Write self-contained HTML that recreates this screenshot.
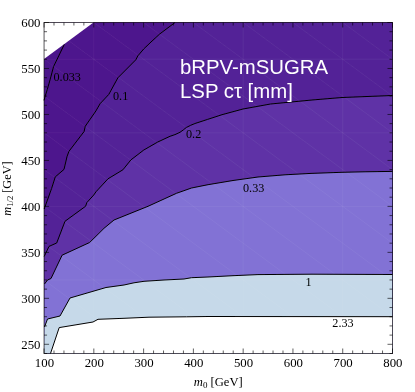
<!DOCTYPE html>
<html><head><meta charset="utf-8"><title>bRPV-mSUGRA LSP c&tau;</title>
<style>html,body{margin:0;padding:0;background:#fff;overflow:hidden}body{width:415px;height:392px;position:relative;font-family:"Liberation Sans",sans-serif}</style>
</head><body>
<svg width="415" height="392" viewBox="0 0 415 392" style="position:absolute;left:0;top:0">
<defs><filter id="bl" x="-5%" y="-5%" width="110%" height="110%"><feGaussianBlur stdDeviation="0.3"/></filter></defs>
<rect x="0" y="0" width="415" height="392" fill="#fff"/>
<g filter="url(#bl)">
<rect x="44.05" y="22.5" width="348.45" height="331" fill="#4b138b"/>
<polygon fill="#4e168d" points="64.30,44.40 53.60,66.50 50.00,80.00 47.30,89.50 45.30,95.80 44.00,100.40 44.05,353.5 392.5,353.5 392.5,22.5 93.5,22.5"/>
<polygon fill="#532397" points="175.00,22.50 159.70,34.00 151.00,42.00 143.80,48.90 137.80,55.90 135.80,59.80 117.90,77.80 108.80,94.40 100.00,103.80 96.00,110.80 85.25,126.25 84.10,131.50 69.00,151.25 67.10,156.25 64.00,169.40 55.25,176.90 51.60,188.50 44.20,209.00 44.05,353.5 392.5,353.5 392.5,22.5"/>
<polygon fill="#5f33a6" points="392.50,95.50 342.00,97.50 312.00,100.00 270.50,104.00 243.00,109.00 222.00,114.70 207.60,119.40 195.00,123.50 190.70,125.30 186.30,127.50 183.20,130.00 180.00,132.30 175.00,134.60 170.00,136.30 157.75,142.00 143.80,150.00 130.90,159.90 122.90,169.80 108.00,178.80 96.00,191.75 93.75,195.00 86.90,202.50 85.60,206.25 65.00,221.25 56.70,243.00 49.00,246.40 44.20,256.50 44.05,353.5 392.5,353.5"/>
<polygon fill="#8272d5" points="392.50,171.40 364.00,171.80 342.00,172.30 311.00,173.40 285.00,174.80 258.00,177.00 233.00,180.50 208.00,184.70 191.50,188.00 176.50,193.30 148.00,206.30 114.00,220.00 104.00,228.30 96.00,236.25 89.60,242.50 62.10,255.20 51.00,278.50 47.50,280.00 44.50,284.00 44.05,353.5 392.5,353.5"/>
<polygon fill="#c6d9e9" points="392.50,274.50 312.00,274.20 258.00,274.60 233.00,275.70 208.00,277.00 191.50,277.70 184.00,279.00 164.00,280.00 144.00,281.30 134.00,282.80 124.00,285.00 106.00,287.50 70.00,298.00 60.00,316.00 47.50,319.00 44.50,327.00 44.05,353.5 392.5,353.5"/>
<polygon fill="#fff" points="392.50,316.70 208.00,316.50 186.50,316.80 149.00,317.20 124.00,318.30 98.00,319.30 93.00,322.00 59.20,327.60 50.50,353.50 392.5,353.5"/>
<polygon fill="#fff" points="44.05,22.5 93.5,22.5 44.05,59"/>
<clipPath id="cp"><rect x="44.05" y="22.5" width="348.45" height="331"/></clipPath>
<path clip-path="url(#cp)" d="M-453.74,22.50 l497.79,367.78 M-403.96,22.50 l497.79,367.78 M-354.18,22.50 l497.79,367.78 M-304.40,22.50 l497.79,367.78 M-254.62,22.50 l497.79,367.78 M-204.84,22.50 l497.79,367.78 M-155.06,22.50 l497.79,367.78 M-105.29,22.50 l497.79,367.78 M-55.51,22.50 l497.79,367.78 M-5.73,22.50 l497.79,367.78 M44.05,22.50 l497.79,367.78 M93.83,22.50 l497.79,367.78 M143.61,22.50 l497.79,367.78 M193.39,22.50 l497.79,367.78 M243.16,22.50 l497.79,367.78 M292.94,22.50 l497.79,367.78 M342.72,22.50 l497.79,367.78 M392.50,22.50 l497.79,367.78 M44.05,59.28 H392.5 M44.05,132.83 H392.5 M44.05,206.39 H392.5 M44.05,279.94 H392.5 M93.83,22.5 V353.5 M243.16,22.5 V353.5 M342.72,22.5 V353.5" stroke="#fff" stroke-opacity="0.06" stroke-width="0.9" fill="none"/>
<polyline fill="none" stroke="#000" stroke-width="1" stroke-linejoin="round" points="64.30,44.40 53.60,66.50 50.00,80.00 47.30,89.50 45.30,95.80 44.00,100.40"/>
<polyline fill="none" stroke="#000" stroke-width="1" stroke-linejoin="round" points="175.00,22.50 159.70,34.00 151.00,42.00 143.80,48.90 137.80,55.90 135.80,59.80 117.90,77.80 108.80,94.40 100.00,103.80 96.00,110.80 85.25,126.25 84.10,131.50 69.00,151.25 67.10,156.25 64.00,169.40 55.25,176.90 51.60,188.50 44.20,209.00"/>
<polyline fill="none" stroke="#000" stroke-width="1" stroke-linejoin="round" points="392.50,95.50 342.00,97.50 312.00,100.00 270.50,104.00 243.00,109.00 222.00,114.70 207.60,119.40 195.00,123.50 190.70,125.30 186.30,127.50 183.20,130.00 180.00,132.30 175.00,134.60 170.00,136.30 157.75,142.00 143.80,150.00 130.90,159.90 122.90,169.80 108.00,178.80 96.00,191.75 93.75,195.00 86.90,202.50 85.60,206.25 65.00,221.25 56.70,243.00 49.00,246.40 44.20,256.50"/>
<polyline fill="none" stroke="#000" stroke-width="1" stroke-linejoin="round" points="392.50,171.40 364.00,171.80 342.00,172.30 311.00,173.40 285.00,174.80 258.00,177.00 233.00,180.50 208.00,184.70 191.50,188.00 176.50,193.30 148.00,206.30 114.00,220.00 104.00,228.30 96.00,236.25 89.60,242.50 62.10,255.20 51.00,278.50 47.50,280.00 44.50,284.00"/>
<polyline fill="none" stroke="#000" stroke-width="1" stroke-linejoin="round" points="392.50,274.50 312.00,274.20 258.00,274.60 233.00,275.70 208.00,277.00 191.50,277.70 184.00,279.00 164.00,280.00 144.00,281.30 134.00,282.80 124.00,285.00 106.00,287.50 70.00,298.00 60.00,316.00 47.50,319.00 44.50,327.00"/>
<polyline fill="none" stroke="#000" stroke-width="1" stroke-linejoin="round" points="392.50,316.70 208.00,316.50 186.50,316.80 149.00,317.20 124.00,318.30 98.00,319.30 93.00,322.00 59.20,327.60 50.50,353.50"/>
<rect x="44.05" y="22.5" width="348.45" height="331" fill="none" stroke="rgba(0,0,0,0.62)" stroke-width="1"/>
<path d="M44.05,353.5 v-5 M44.05,22.5 v5 M54.01,353.5 v-3 M54.01,22.5 v3 M63.96,353.5 v-3 M63.96,22.5 v3 M73.92,353.5 v-3 M73.92,22.5 v3 M83.87,353.5 v-3 M83.87,22.5 v3 M93.83,353.5 v-5 M93.83,22.5 v5 M103.78,353.5 v-3 M103.78,22.5 v3 M113.74,353.5 v-3 M113.74,22.5 v3 M123.70,353.5 v-3 M123.70,22.5 v3 M133.65,353.5 v-3 M133.65,22.5 v3 M143.61,353.5 v-5 M143.61,22.5 v5 M153.56,353.5 v-3 M153.56,22.5 v3 M163.52,353.5 v-3 M163.52,22.5 v3 M173.47,353.5 v-3 M173.47,22.5 v3 M183.43,353.5 v-3 M183.43,22.5 v3 M193.39,353.5 v-5 M193.39,22.5 v5 M203.34,353.5 v-3 M203.34,22.5 v3 M213.30,353.5 v-3 M213.30,22.5 v3 M223.25,353.5 v-3 M223.25,22.5 v3 M233.21,353.5 v-3 M233.21,22.5 v3 M243.16,353.5 v-5 M243.16,22.5 v5 M253.12,353.5 v-3 M253.12,22.5 v3 M263.08,353.5 v-3 M263.08,22.5 v3 M273.03,353.5 v-3 M273.03,22.5 v3 M282.99,353.5 v-3 M282.99,22.5 v3 M292.94,353.5 v-5 M292.94,22.5 v5 M302.90,353.5 v-3 M302.90,22.5 v3 M312.85,353.5 v-3 M312.85,22.5 v3 M322.81,353.5 v-3 M322.81,22.5 v3 M332.77,353.5 v-3 M332.77,22.5 v3 M342.72,353.5 v-5 M342.72,22.5 v5 M352.68,353.5 v-3 M352.68,22.5 v3 M362.63,353.5 v-3 M362.63,22.5 v3 M372.59,353.5 v-3 M372.59,22.5 v3 M382.54,353.5 v-3 M382.54,22.5 v3 M392.50,353.5 v-5 M392.50,22.5 v5 M44.05,353.50 h3 M392.5,353.50 h-3 M44.05,344.31 h5 M392.5,344.31 h-5 M44.05,335.11 h3 M392.5,335.11 h-3 M44.05,325.92 h3 M392.5,325.92 h-3 M44.05,316.72 h3 M392.5,316.72 h-3 M44.05,307.53 h3 M392.5,307.53 h-3 M44.05,298.33 h5 M392.5,298.33 h-5 M44.05,289.14 h3 M392.5,289.14 h-3 M44.05,279.94 h3 M392.5,279.94 h-3 M44.05,270.75 h3 M392.5,270.75 h-3 M44.05,261.56 h3 M392.5,261.56 h-3 M44.05,252.36 h5 M392.5,252.36 h-5 M44.05,243.17 h3 M392.5,243.17 h-3 M44.05,233.97 h3 M392.5,233.97 h-3 M44.05,224.78 h3 M392.5,224.78 h-3 M44.05,215.58 h3 M392.5,215.58 h-3 M44.05,206.39 h5 M392.5,206.39 h-5 M44.05,197.19 h3 M392.5,197.19 h-3 M44.05,188.00 h3 M392.5,188.00 h-3 M44.05,178.81 h3 M392.5,178.81 h-3 M44.05,169.61 h3 M392.5,169.61 h-3 M44.05,160.42 h5 M392.5,160.42 h-5 M44.05,151.22 h3 M392.5,151.22 h-3 M44.05,142.03 h3 M392.5,142.03 h-3 M44.05,132.83 h3 M392.5,132.83 h-3 M44.05,123.64 h3 M392.5,123.64 h-3 M44.05,114.44 h5 M392.5,114.44 h-5 M44.05,105.25 h3 M392.5,105.25 h-3 M44.05,96.06 h3 M392.5,96.06 h-3 M44.05,86.86 h3 M392.5,86.86 h-3 M44.05,77.67 h3 M392.5,77.67 h-3 M44.05,68.47 h5 M392.5,68.47 h-5 M44.05,59.28 h3 M392.5,59.28 h-3 M44.05,50.08 h3 M392.5,50.08 h-3 M44.05,40.89 h3 M392.5,40.89 h-3 M44.05,31.69 h3 M392.5,31.69 h-3 M44.05,22.50 h5 M392.5,22.50 h-5" stroke="rgba(0,0,0,0.62)" stroke-width="1" fill="none"/>
<g font-family="Liberation Serif, serif" font-size="12.8" fill="#000">
<text x="44.45" y="367.2" text-anchor="middle">100</text>
<text x="94.23" y="367.2" text-anchor="middle">200</text>
<text x="144.01" y="367.2" text-anchor="middle">300</text>
<text x="193.79" y="367.2" text-anchor="middle">400</text>
<text x="243.56" y="367.2" text-anchor="middle">500</text>
<text x="293.34" y="367.2" text-anchor="middle">600</text>
<text x="343.12" y="367.2" text-anchor="middle">700</text>
<text x="392.90" y="367.2" text-anchor="middle">800</text>
<text x="40.5" y="348.56" text-anchor="end">250</text>
<text x="40.5" y="302.58" text-anchor="end">300</text>
<text x="40.5" y="256.61" text-anchor="end">350</text>
<text x="40.5" y="210.64" text-anchor="end">400</text>
<text x="40.5" y="164.67" text-anchor="end">450</text>
<text x="40.5" y="118.69" text-anchor="end">500</text>
<text x="40.5" y="72.72" text-anchor="end">550</text>
<text x="40.5" y="26.75" text-anchor="end">600</text>
</g><g font-family="Liberation Serif, serif" font-size="12.2" fill="#000">
<text x="53.5" y="81">0.033</text>
<text x="113" y="99.5">0.1</text>
<text x="186" y="138">0.2</text>
<text x="243" y="192">0.33</text>
<text x="305.5" y="285.5">1</text>
<text x="332.3" y="326.6">2.33</text>
<text x="218.3" y="386.3" text-anchor="middle" font-size="12.6"><tspan font-style="italic">m</tspan><tspan font-size="9" dy="2">0</tspan><tspan dy="-2"> [GeV]</tspan></text>
<text transform="translate(11.3,188.5) rotate(-90)" text-anchor="middle" font-size="12.3"><tspan font-style="italic">m</tspan><tspan font-size="8.5" dy="2">1/2</tspan><tspan dy="-2"> [GeV]</tspan></text>
</g>
<g font-family="Liberation Sans, sans-serif" font-size="20.35" fill="#fff">
<text x="180" y="73.75">bRPV-mSUGRA</text>
<text x="180" y="97.5">LSP cτ [mm]</text>
</g>
</g>
</svg>
</body></html>
